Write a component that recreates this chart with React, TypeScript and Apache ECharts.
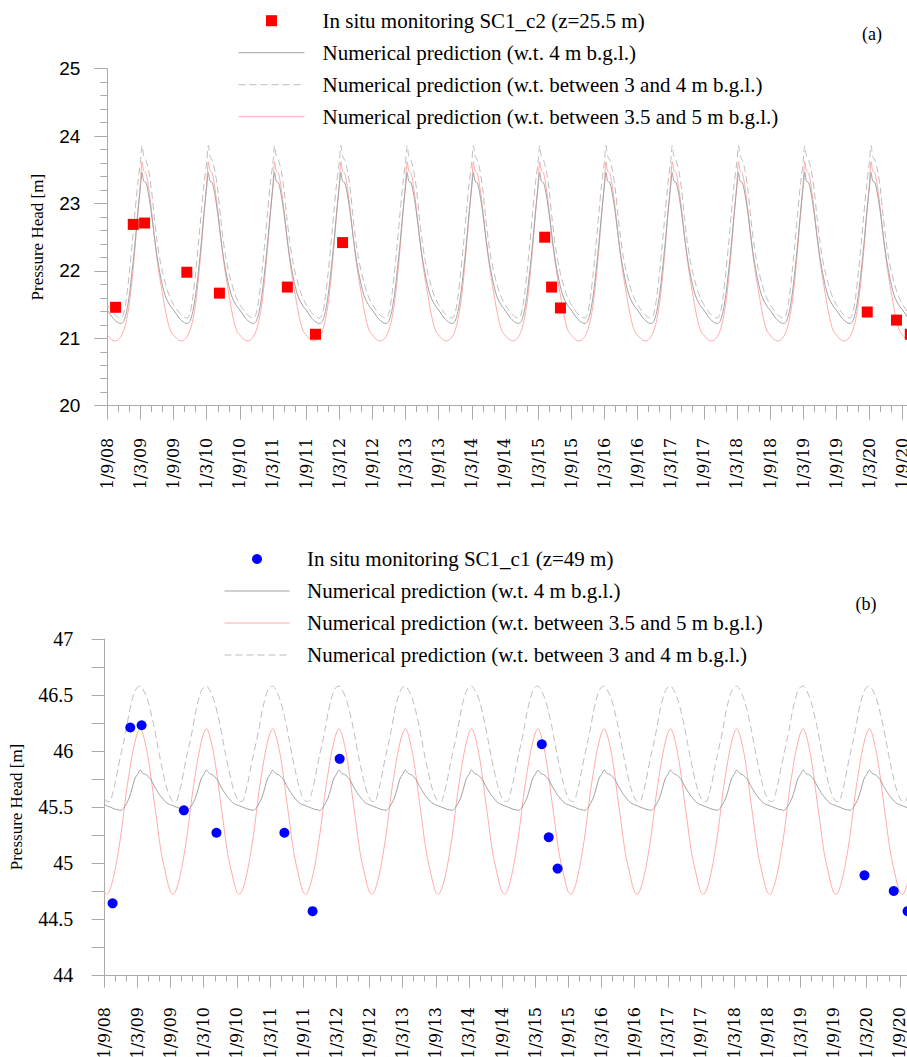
import React, { useEffect, useRef } from "react";
import * as echarts from "echarts";

// ---------- tick labels (x axis: months since 1/9/08, every 6 months) ----------
const tickLabels = [
  "1/9/08", "1/3/09", "1/9/09", "1/3/10", "1/9/10", "1/3/11", "1/9/11", "1/3/12", "1/9/12",
  "1/3/13", "1/9/13", "1/3/14", "1/9/14", "1/3/15", "1/9/15", "1/3/16", "1/9/16", "1/3/17",
  "1/9/17", "1/3/18", "1/9/18", "1/3/19", "1/9/19", "1/3/20", "1/9/20",
];

// ---------- in situ monitoring (months since 1/9/08) ----------
const monitoringMonths = [1.5, 4.7, 6.75, 14.4, 20.3, 32.6, 37.7, 42.6, 79.2, 80.45, 82.05, 137.6, 142.9, 145.4];
const insituSC1c2 = [21.46, 22.69, 22.71, 21.98, 21.67, 21.76, 21.06, 22.42, 22.5, 21.76, 21.45, 21.39, 21.27, 21.06];
const insituSC1c1 = [44.64, 46.21, 46.23, 45.47, 45.27, 45.27, 44.57, 45.93, 46.06, 45.23, 44.95, 44.89, 44.75, 44.57];

// ---------- numerical predictions: one yearly cycle (months after 1 September);
// the simulated cycle is identical in every year of the record ----------
const simYears = [0, 1, 2, 3, 4, 5, 6, 7, 8, 9, 10, 11, 12];

const cycleMonthsA = [0, 0.5, 1, 1.5, 2, 2.5, 3, 3.5, 4, 4.5, 5, 5.5, 6, 6.3, 6.6, 7, 7.5, 8, 8.5, 9, 9.5, 10, 10.5, 11, 11.5];
const predA_wt4 = [21.42, 21.36, 21.3, 21.26, 21.23, 21.22, 21.26, 21.4, 21.65, 22.0, 22.4, 22.85, 23.25, 23.46, 23.33, 23.31, 23.12, 22.85, 22.52, 22.22, 21.98, 21.78, 21.63, 21.54, 21.47];
const predA_wt3to4 = [21.5, 21.44, 21.38, 21.34, 21.31, 21.3, 21.38, 21.62, 21.98, 22.4, 22.85, 23.28, 23.62, 23.86, 23.7, 23.64, 23.48, 23.2, 22.8, 22.45, 22.18, 21.98, 21.82, 21.68, 21.58];
const predA_wt35to5 = [21.05, 21.0, 20.97, 20.96, 20.98, 21.03, 21.12, 21.28, 21.52, 21.88, 22.32, 22.82, 23.3, 23.62, 23.48, 23.45, 23.22, 22.9, 22.52, 22.18, 21.9, 21.66, 21.42, 21.23, 21.1];

const cycleMonthsB = [0, 0.5, 1, 1.5, 2, 2.5, 3, 3.5, 4, 4.5, 5, 5.5, 6, 6.5, 7, 7.5, 8, 8.5, 9, 9.5, 10, 10.5, 11, 11.5];
const predB_wt4 = [45.52, 45.51, 45.5, 45.49, 45.48, 45.475, 45.47, 45.49, 45.53, 45.58, 45.66, 45.75, 45.79, 45.83, 45.8, 45.79, 45.77, 45.74, 45.69, 45.65, 45.61, 45.58, 45.55, 45.53];
const predB_wt35to5 = [44.74, 44.72, 44.76, 44.84, 44.95, 45.09, 45.25, 45.44, 45.64, 45.8, 45.95, 46.07, 46.16, 46.2, 46.15, 46.05, 45.92, 45.75, 45.56, 45.38, 45.19, 45.04, 44.93, 44.82];
const predB_wt3to4 = [45.58, 45.55, 45.55, 45.62, 45.72, 45.85, 45.97, 46.08, 46.2, 46.34, 46.45, 46.53, 46.57, 46.58, 46.55, 46.5, 46.43, 46.33, 46.22, 46.09, 45.96, 45.84, 45.73, 45.64];

// ---------- names ----------
const NAME_A_INSITU = "In situ monitoring SC1_c2 (z=25.5 m)";
const NAME_B_INSITU = "In situ monitoring SC1_c1 (z=49 m)";
const NAME_WT4 = "Numerical prediction (w.t. 4 m b.g.l.)";
const NAME_WT34 = "Numerical prediction (w.t. between 3 and 4 m b.g.l.)";
const NAME_WT355 = "Numerical prediction (w.t. between 3.5 and 5 m b.g.l.)";

const COLOR_GRAY = "#a2a2a2";
const COLOR_DASH = "#bdbdbd";
const COLOR_PINK = "#ffabab";
const AXIS_COLOR = "#ababab";

function buildSeries(months: number[], values: number[], limit: number) {
  const out: number[][] = [];
  simYears.forEach((y) => {
    months.forEach((m, i) => {
      const t = y * 12 + m;
      if (t <= limit) out.push([t, values[i]]);
    });
  });
  return out;
}

export default function App() {
  const ref = useRef<HTMLDivElement>(null);

  useEffect(() => {
    if (!ref.current) return;
    const chart = echarts.init(ref.current, undefined, { renderer: "svg" });

    const xLabelFmt = (v: number) => {
      const i = v / 6;
      return Number.isInteger(i) && tickLabels[i] ? tickLabels[i] : "";
    };

    const xAxisCommon = (max: number, tickLen: number, gridIndex: number) => ({
      type: "value",
      gridIndex,
      min: 0,
      max,
      interval: 6,
      axisLine: { show: true, onZero: false, lineStyle: { color: AXIS_COLOR, width: 1 } },
      axisTick: { show: true, length: tickLen, lineStyle: { color: AXIS_COLOR } },
      minorTick: { show: true, splitNumber: 3, length: 6.5, lineStyle: { color: AXIS_COLOR } },
      splitLine: { show: false },
      minorSplitLine: { show: false },
      axisLabel: {
        rotate: 90,
        margin: 32,
        formatter: xLabelFmt,
        color: "#000",
        fontFamily: "DejaVu Serif, serif",
        fontSize: 16,
        hideOverlap: false,
      },
    });

    const lineSeries = (name: string, data: number[][], color: string, dashed: boolean, idx: number) => ({
      type: "line",
      name,
      xAxisIndex: idx,
      yAxisIndex: idx,
      data,
      symbol: "none",
      showSymbol: false,
      smooth: 0.3,
      silent: true,
      z: 2,
      lineStyle: { color, width: 1, type: dashed ? [7, 4] : "solid" },
      itemStyle: { color },
    });

    const lineLegendItem = (name: string) => ({ name, itemStyle: { opacity: 0 } });

    const legendText = (padLeft: number) => ({
      fontFamily: "'Liberation Serif'",
      fontSize: 21,
      lineHeight: 21,
      color: "#000",
      padding: [0, 0, 0, padLeft],
    });

    chart.setOption({
      animation: false,
      backgroundColor: "#fff",
      grid: [
        { left: 107.3, top: 68.7, width: 799.7, height: 337, outerBoundsMode: "none", containLabel: false },
        { left: 104.3, top: 639, width: 802.7, height: 336, outerBoundsMode: "none", containLabel: false },
      ],
      legend: [
        {
          orient: "vertical",
          left: 238,
          top: 10.2,
          padding: 0,
          itemWidth: 66,
          itemHeight: 11,
          itemGap: 11,
          selectedMode: false,
          lineStyle: { width: 1 },
          textStyle: legendText(13),
          data: [
            { name: NAME_A_INSITU, icon: "path://M0,0H10V10H0Z", itemStyle: { color: "#ff0000", opacity: 1 } },
            lineLegendItem(NAME_WT4),
            lineLegendItem(NAME_WT34),
            lineLegendItem(NAME_WT355),
          ],
        },
        {
          orient: "vertical",
          left: 224,
          top: 548.5,
          padding: 0,
          itemWidth: 65,
          itemHeight: 10,
          itemGap: 11,
          selectedMode: false,
          lineStyle: { width: 1 },
          textStyle: legendText(12.5),
          data: [
            { name: NAME_B_INSITU, icon: "circle", itemStyle: { color: "#0000ff", opacity: 1 } },
            lineLegendItem(NAME_WT4),
            lineLegendItem(NAME_WT355),
            lineLegendItem(NAME_WT34),
          ],
        },
      ],
      xAxis: [xAxisCommon(144.8, 14, 0), xAxisCommon(145.3, 12.7, 1)],
      yAxis: [
        {
          type: "value",
          gridIndex: 0,
          min: 20,
          max: 25,
          interval: 1,
          name: "Pressure Head [m]",
          nameLocation: "middle",
          nameGap: 61,
          nameMoveOverlap: false,
          nameTextStyle: { fontFamily: "'Liberation Serif'", fontSize: 17, lineHeight: 17, color: "#000" },
          axisLine: { show: true, lineStyle: { color: AXIS_COLOR, width: 1 } },
          axisTick: { show: true, length: 13, lineStyle: { color: AXIS_COLOR } },
          minorTick: { show: true, splitNumber: 5, length: 7, lineStyle: { color: AXIS_COLOR } },
          splitLine: { show: false },
          minorSplitLine: { show: false },
          axisLabel: { margin: 27, color: "#000", fontFamily: "'Liberation Sans'", fontSize: 19 },
        },
        {
          type: "value",
          gridIndex: 1,
          min: 44,
          max: 47,
          interval: 0.25,
          name: "Pressure Head [m]",
          nameLocation: "middle",
          nameGap: 79,
          nameMoveOverlap: false,
          nameTextStyle: { fontFamily: "'Liberation Serif'", fontSize: 17, lineHeight: 17, color: "#000" },
          axisLine: { show: true, lineStyle: { color: AXIS_COLOR, width: 1 } },
          axisTick: { show: true, length: 12.6, lineStyle: { color: AXIS_COLOR } },
          splitLine: { show: false },
          axisLabel: {
            margin: 31,
            color: "#000",
            fontFamily: "'Liberation Serif'",
            fontSize: 20,
            formatter: (v: number) => (Number.isInteger(Math.round(v * 100) / 50) ? String(Math.round(v * 100) / 100) : ""),
          },
        },
      ],
      graphic: [
        { type: "text", x: 872, y: 34, style: { text: "(a)", font: "18px 'Liberation Serif'", fill: "#000", textAlign: "center", textVerticalAlign: "middle" } },
        { type: "text", x: 866, y: 604, style: { text: "(b)", font: "18px 'Liberation Serif'", fill: "#000", textAlign: "center", textVerticalAlign: "middle" } },
      ],
      series: [
        lineSeries(NAME_WT355, buildSeries(cycleMonthsA, predA_wt35to5, 146), COLOR_PINK, false, 0),
        lineSeries(NAME_WT4, buildSeries(cycleMonthsA, predA_wt4, 146), COLOR_GRAY, false, 0),
        lineSeries(NAME_WT34, buildSeries(cycleMonthsA, predA_wt3to4, 146), COLOR_DASH, true, 0),
        {
          type: "scatter",
          name: NAME_A_INSITU,
          xAxisIndex: 0,
          yAxisIndex: 0,
          symbol: "rect",
          symbolSize: 11,
          clip: false,
          z: 5,
          itemStyle: { color: "#ff0000", opacity: 1 },
          data: monitoringMonths.map((m, i) => [m, insituSC1c2[i]]),
        },
        lineSeries(NAME_WT355, buildSeries(cycleMonthsB, predB_wt35to5, 146), COLOR_PINK, false, 1),
        lineSeries(NAME_WT4, buildSeries(cycleMonthsB, predB_wt4, 146), COLOR_GRAY, false, 1),
        lineSeries(NAME_WT34, buildSeries(cycleMonthsB, predB_wt3to4, 146), COLOR_DASH, true, 1),
        {
          type: "scatter",
          name: NAME_B_INSITU,
          xAxisIndex: 1,
          yAxisIndex: 1,
          symbol: "circle",
          symbolSize: 10,
          clip: false,
          z: 5,
          itemStyle: { color: "#0000ff", opacity: 1 },
          data: monitoringMonths.map((m, i) => [m, insituSC1c1[i]]),
        },
      ],
    });

    return () => chart.dispose();
  }, []);

  return <div ref={ref} style={{ position: "absolute", left: 0, top: 0, width: 907, height: 1057 }} />;
}
